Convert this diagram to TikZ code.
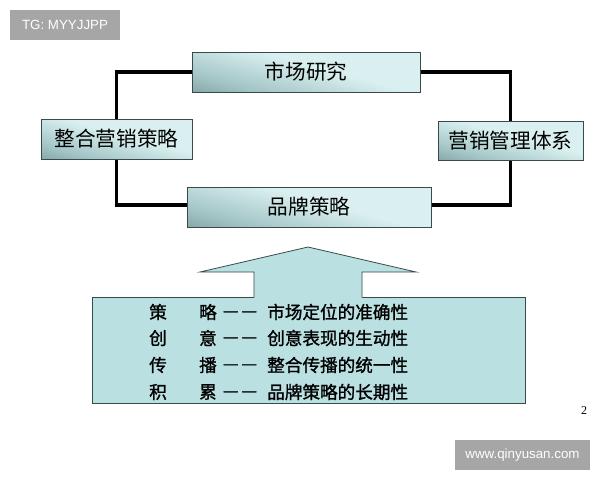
\documentclass[tikz,border=0pt]{standalone}
\usepackage{fontspec}
\setmainfont{Liberation Serif}
\newfontfamily\cjk{Noto Sans CJK SC}
\newfontfamily\cjkb[FakeBold=1.2]{Noto Sans CJK SC}
\newfontfamily\lsans{Liberation Sans}
\definecolor{bxdark}{HTML}{577374}
\definecolor{bxmid}{HTML}{A2C4C5}
\definecolor{bxlight}{HTML}{DAF0F0}
\definecolor{bxright}{HTML}{B3CDCE}
\definecolor{panel}{HTML}{BAE0E2}
\definecolor{edge}{HTML}{3A4A4A}
\definecolor{wmgrey}{HTML}{A6A6A6}
\pgfdeclarehorizontalshading{boxsh}{100bp}{color(0bp)=(bxdark); color(30bp)=(bxmid); color(55bp)=(bxlight); color(80bp)=(bxlight); color(100bp)=(bxright)}
\begin{document}
\begin{tikzpicture}[x=0.75pt,y=-0.75pt,
  tbox/.style={draw=edge, line width=0.6pt, shading=boxsh, shading angle=75, inner sep=0pt,
    font=\cjk\fontsize{15.5}{18}\selectfont, text=black},
  loop/.style={line width=2.6pt, black},
  row/.style={font=\cjkb\fontsize{13.2}{15}\selectfont, inner sep=0pt},
  wm/.style={fill=wmgrey, text=white, inner sep=0pt, font=\lsans\fontsize{10}{12}\selectfont}]
\useasboundingbox (0,0) rectangle (600,480);
\fill[white] (0,0) rectangle (600,480);
% watermark boxes
\node[wm, minimum width=82.5pt, minimum height=22.5pt] (tg) at (65,25) {TG: MYYJJPP};
\node[wm, minimum width=101.25pt, minimum height=22.5pt] (www) at (522.5,455) {www.qinyusan.com};
% box anchors
\path (306,72) node[minimum width=171pt, minimum height=30pt, inner sep=0pt] (m) {};
\path (116.5,139) node[minimum width=113.25pt, minimum height=30pt, inner sep=0pt] (z) {};
\path (510.5,140.5) node[minimum width=108.75pt, minimum height=29.25pt, inner sep=0pt] (y) {};
\path (309,207) node[minimum width=183pt, minimum height=30pt, inner sep=0pt] (p) {};
% loop connectors
\draw[loop] (m.west) -| (z.north);
\draw[loop] (z.south) |- ([yshift=1.5pt]p.west);
\draw[loop] ([yshift=1.5pt]p.east) -| (y.south);
\draw[loop] (y.north) |- (m.east);
% boxes
\node[tbox, minimum width=171pt, minimum height=30pt] (mk) at (m) {市场研究};
\node[tbox, minimum width=113.25pt, minimum height=30pt] (zk) at (z) {整合营销策略};
\node[tbox, minimum width=108.75pt, minimum height=29.25pt] (yk) at (y) {营销管理体系};
\node[tbox, minimum width=183pt, minimum height=30pt] (pk) at (p) {品牌策略};
% panel
\node[draw=edge, line width=0.6pt, fill=panel, minimum width=324.75pt, minimum height=79.5pt] (panel) at (308.5,350) {};
% arrow
\fill[panel] (254,299) -- (254,272) -- (200,272) -- (308,247) -- (416,272) -- (362,272) -- (362,299) -- cycle;
\draw[edge, line width=0.6pt, line join=miter] (254,297.5) -- (254,272) -- (200,272) -- (308,247) -- (416,272) -- (362,272) -- (362,297.5);
% rows
\foreach \yy/\a/\b/\t [count=\i] in {312/策/略/市场定位的准确性, 338/创/意/创意表现的生动性, 365/传/播/整合传播的统一性, 392/积/累/品牌策略的长期性}{
  \node[row] (ra\i) at (158,\yy) {\a};
  \node[row] (rb\i) at (208,\yy) {\b};
  \node[row] (rd\i) at (240,\yy+2) {—\,—};
  \node[row, anchor=west] (rt\i) at (267,\yy) {\t};
}
\node[font=\fontsize{9}{10}\selectfont, inner sep=0pt] (pg) at (584,411) {2};
\end{tikzpicture}
\end{document}
